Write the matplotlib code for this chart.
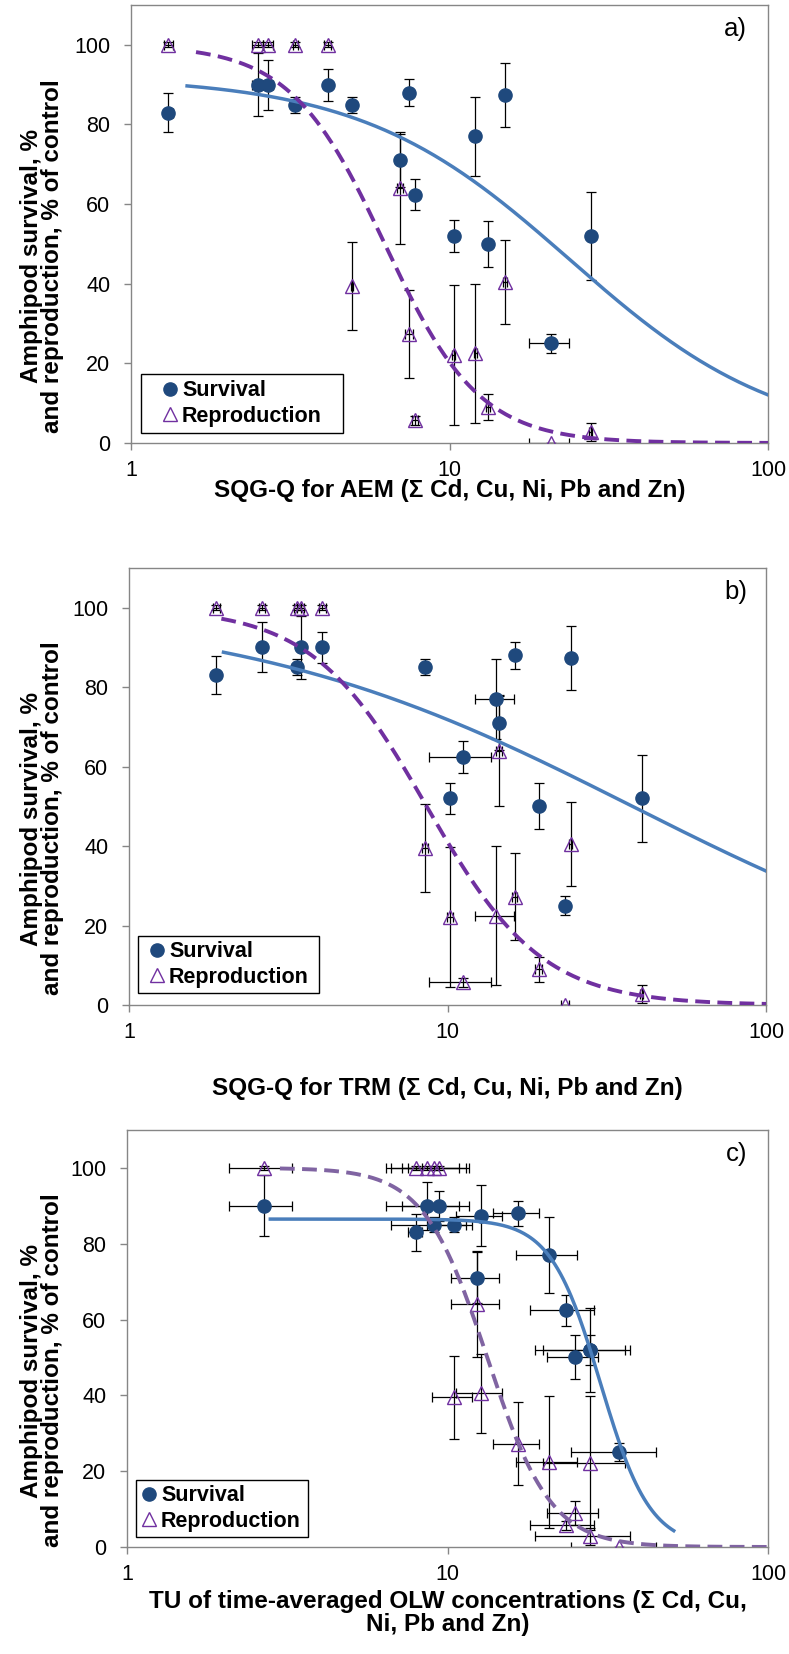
import numpy as np
import matplotlib.pyplot as plt
from matplotlib.lines import Line2D
from matplotlib.patches import Rectangle

plt.rcParams['font.family'] = ['Liberation Sans', 'DejaVu Sans']

# toxicity test endpoints per site, % of control
survival = [83, 90, 90, 85, 90, 85, 88, 71, 62.4, 52, 77, 87.4, 50, 25, 52]
survival_err = [4.8, 8, 6.3, 2, 4, 2, 3.4, 6.7, 4, 4, 10, 8, 5.8, 2.4, 11]
reproduction = [100, 100, 100, 100, 100, 39.5, 27.3, 64, 5.7, 22.2, 22.5, 40.5, 9, 0, 2.8]
reproduction_err = [0.6, 0.6, 0.6, 0.6, 0.6, 11, 11, 14, 1.2, 17.6, 17.4, 10.5, 3.2, 0, 2.2]

# exposure metrics per site (same site order)
sqgq_aem = [1.31, 2.50, 2.70, 3.28, 4.15, 4.94, 7.47, 6.99, 7.80, 10.3, 12.06, 14.9, 13.2, 20.8, 27.8]
sqgq_aem_err = [0.04, 0.1, 0.1, 0.06, 0.1, 0.05, 0.2, 0.17, 0.15, 0.1, 0.1, 0.2, 0.2, 3.0, 0.3]
sqgq_trm = [1.88, 3.46, 2.62, 3.38, 4.04, 8.51, 16.27, 14.53, 11.22, 10.17, 14.2, 24.35, 19.36, 23.4, 40.7]
sqgq_trm_err = [0.05, 0.08, 0.06, 0.08, 0.1, 0.2, 0.3, 0.3, 2.5, 0.2, 2.0, 0.3, 0.5, 0.7, 0.5]
tu_olw = [7.95, 2.68, 8.63, 9.05, 9.43, 10.45, 16.55, 12.37, 23.35, 27.8, 20.8, 12.72, 25.0, 34.4, 27.9]
tu_olw_err = [0.4, 0.6, 2.2, 2.4, 2.2, 1.5, 2.7, 2.1, 5.2, 7.9, 4.5, 2.1, 4.5, 10.2, 9.2]

# log-logistic fits: (top, EC50, slope, x start, x end)
fit_survival = {'a': (92, 23.9, 1.32, 1.5, 100),
                'b': (100, 38.1, 0.70, 1.98, 100),
                'c': (86.5, 30.0, 5.6, 2.8, 50.8)}
fit_reproduction = {'a': (100, 6.26, 2.92, 1.6, 100),
                    'b': (100, 8.6, 2.4, 1.95, 100),
                    'c': (100, 13.3, 4.38, 3.0, 100)}

xlabels = {'a': 'SQG-Q for AEM (\u03a3 Cd, Cu, Ni, Pb and Zn)',
           'b': 'SQG-Q for TRM (\u03a3 Cd, Cu, Ni, Pb and Zn)',
           'c': 'TU of time-averaged OLW concentrations (\u03a3 Cd, Cu,\nNi, Pb and Zn)'}
exposure = {'a': (sqgq_aem, sqgq_aem_err),
            'b': (sqgq_trm, sqgq_trm_err),
            'c': (tu_olw, tu_olw_err)}

surv_color = '#1F497D'
surv_line = '#4A7EBB'
repro_color = '#7030A0'
repro_line = {'a': '#7030A0', 'b': '#7030A0', 'c': '#8064A2'}
grey = '#868686'

W, H = 789, 1654
fig = plt.figure(figsize=(W / 100, H / 100), dpi=100)

# layout in pixels
boxes = {'a': (131, 768, 5, 443),          # left, right, top, bottom
         'b': (129, 766, 568, 1005),
         'c': (127, 768, 1130, 1547)}
xlabel_y = {'a': 491, 'b': 1089, 'c': 1613}   # centre of the axis title
legend_box = {'a': (141, 343, 374, 433, 170),   # left, right, top, bottom, marker x
              'b': (138, 319, 936, 993, 157),
              'c': (136, 308, 1480, 1537, 149)}


def loglogistic(top, ec50, slope, x):
    return top / (1 + (x / ec50) ** slope)


for key in ['a', 'b', 'c']:
    l, r, t, b = boxes[key]
    ax = fig.add_axes([l / W, 1 - b / H, (r - l) / W, (b - t) / H])
    x, xerr = exposure[key]

    ax.errorbar(x, survival, yerr=survival_err, xerr=xerr, fmt='none',
                ecolor='black', elinewidth=0.9, capsize=3.5, capthick=0.9, zorder=2)
    ax.errorbar(x, reproduction, yerr=reproduction_err, xerr=xerr, fmt='none',
                ecolor='black', elinewidth=0.9, capsize=3.5, capthick=0.9, zorder=2)
    ax.plot(x, survival, 'o', color=surv_color, markersize=9.5, zorder=3)
    ax.plot(x, reproduction, '^', markerfacecolor='none', markeredgecolor=repro_color,
            markeredgewidth=1.0, markersize=10, zorder=3)

    top, ec50, slope, x0, x1 = fit_survival[key]
    xs = np.logspace(np.log10(x0), np.log10(x1), 300)
    ax.plot(xs, loglogistic(top, ec50, slope, xs), color=surv_line, lw=2.5, zorder=4)
    top, ec50, slope, x0, x1 = fit_reproduction[key]
    xs = np.logspace(np.log10(x0), np.log10(x1), 300)
    ax.plot(xs, loglogistic(top, ec50, slope, xs), color=repro_line[key], lw=2.8,
            dashes=(3.8, 1.9), zorder=4)

    ax.set_xscale('log')
    ax.set_xlim(1, 100)
    ax.set_ylim(0, 110)
    ax.set_xticks([1, 10, 100])
    ax.set_xticklabels(['1', '10', '100'])
    ax.minorticks_off()
    ax.set_yticks(range(0, 101, 20))
    for s in ax.spines.values():
        s.set_color(grey)
        s.set_linewidth(1.0)
    ax.tick_params(axis='both', colors=grey, labelcolor='black', labelsize=15.5,
                   length=5, width=1.0)
    ax.tick_params(axis='y', pad=10)
    ax.tick_params(axis='x', pad=7)

    ax.set_ylabel('Amphipod survival, %\nand reproduction, % of control',
                  fontsize=17.5, fontweight='bold', linespacing=0.9, va='center')
    ax.yaxis.set_label_coords((42 - l) / (r - l), 0.5 - 32 / (b - t))

    ax.set_xlabel(xlabels[key], fontsize=17.5, fontweight='bold', linespacing=1.0,
                  va='center')
    ax.xaxis.set_label_coords(0.5, -(xlabel_y[key] - b) / (b - t))

    ax.text((747 - l) / (r - l), 1 - 12 / (b - t), key + ')', transform=ax.transAxes,
            ha='right', va='top', fontsize=18.5)

    # legend: black frame drawn separately so its padding can be set freely
    bl, br, bt, bb, mx = legend_box[key]
    ax.add_patch(Rectangle((bl / W, 1 - bb / H), (br - bl) / W, (bb - bt) / H,
                           transform=fig.transFigure, facecolor='white',
                           edgecolor='black', lw=1.0, zorder=5, clip_on=False))
    handles = [Line2D([], [], ls='none', marker='o', color=surv_color, markersize=9.5),
               Line2D([], [], ls='none', marker='^', markerfacecolor='none',
                      markeredgecolor=repro_color, markersize=10)]
    fs = 15.5 * 100 / 72
    leg = ax.legend(handles, ['Survival', 'Reproduction'], loc='center left',
                    bbox_to_anchor=((mx - 0.4 * fs - l) / (r - l),
                                    (b - (bt + bb) / 2) / (b - t)),
                    borderaxespad=0, borderpad=0, frameon=False,
                    prop={'weight': 'bold', 'size': 15.5},
                    handlelength=0.8, handletextpad=0.16, labelspacing=0.22)
    leg.set_zorder(6)

fig.savefig('out.png', dpi=100)
